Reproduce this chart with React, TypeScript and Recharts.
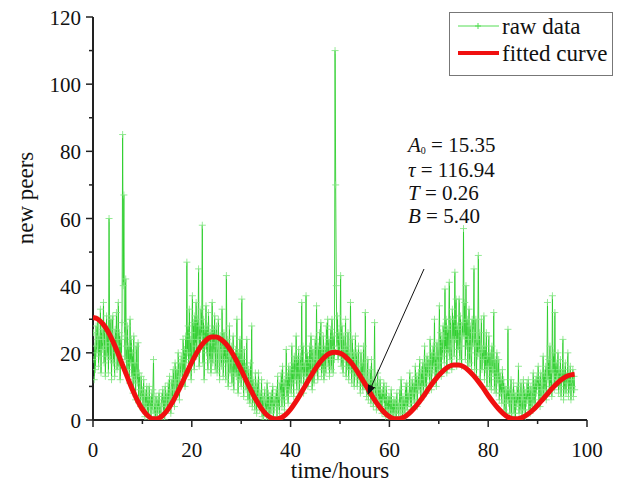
import { Label, Legend, Line, LineChart, XAxis, YAxis } from "recharts";

const SERIF = "'Liberation Serif', 'Times New Roman', 'DejaVu Serif', serif";
const serif = { fontFamily: SERIF };

// raw counts, one sample every 7.5 minutes starting at t = 0 h (8 per hour)
const RAW_STEP = 0.125;
const rawValues = [
  18, 26, 12, 22, 15, 28, 20, 24, 30, 16, 25, 19, 33, 14, 27, 21,
  24, 35, 17, 28, 13, 22, 31, 19, 26, 14, 60, 23, 18, 30, 12, 25,
  31, 17, 24, 13, 27, 20, 32, 15, 22, 35, 16, 26, 12, 24, 19, 29,
  85, 40, 67, 25, 18, 42, 22, 14, 28, 15, 22, 11, 30, 17, 24, 13,
  20, 8, 25, 12, 17, 6, 22, 14, 11, 23, 6, 14, 9, 4, 13, 7,
  9, 3, 12, 5, 1, 8, 4, 10, 2, 7, 0, 10, 4, 6, 1, 8,
  3, 9, 18, 2, 5, 0, 7, 4, 1, 6, 3, 8, 0, 4, 2, 7,
  5, 9, 2, 7, 0, 10, 4, 6, 8, 3, 11, 5, 13, 7, 2, 9,
  12, 6, 15, 9, 4, 17, 11, 8, 15, 9, 20, 12, 6, 17, 13, 19,
  18, 11, 24, 14, 21, 10, 25, 17, 47, 20, 28, 14, 33, 18, 24, 12,
  26, 37, 18, 29, 15, 31, 22, 35, 19, 30, 24, 45, 16, 28, 21, 33,
  25, 58, 17, 30, 12, 27, 22, 34, 20, 28, 15, 32, 24, 18, 26, 14,
  23, 35, 17, 27, 20, 31, 15, 25, 28, 14, 22, 30, 18, 12, 25, 20,
  16, 33, 21, 13, 26, 18, 23, 12, 43, 17, 24, 10, 20, 28, 14, 19,
  22, 11, 17, 25, 9, 19, 14, 21, 13, 30, 17, 8, 20, 12, 24, 15,
  10, 36, 14, 18, 7, 21, 12, 16, 9, 24, 13, 6, 15, 11, 5, 17,
  8, 28, 4, 12, 6, 10, 3, 14, 9, 2, 11, 5, 14, 7, 3, 8,
  4, 12, 1, 7, 0, 6, 9, 3, 6, 1, 11, 3, 8, 0, 5, 7,
  2, 8, 4, 10, 0, 6, 3, 7, 5, 9, 1, 13, 4, 7, 2, 11,
  8, 14, 4, 16, 6, 11, 3, 12, 10, 21, 7, 13, 5, 16, 9, 14,
  15, 8, 22, 11, 17, 7, 19, 12, 14, 25, 9, 18, 12, 21, 8, 16,
  19, 11, 35, 14, 22, 8, 17, 13, 16, 37, 12, 20, 10, 18, 14, 22,
  13, 25, 17, 9, 21, 15, 11, 19, 24, 14, 34, 18, 12, 22, 16, 26,
  17, 29, 13, 21, 15, 25, 12, 20, 22, 14, 28, 18, 30, 16, 24, 13,
  19, 27, 15, 30, 21, 14, 25, 18, 110, 70, 40, 22, 31, 18, 26, 20,
  24, 43, 16, 28, 19, 14, 25, 21, 18, 30, 13, 22, 16, 26, 12, 20,
  15, 35, 19, 11, 24, 14, 20, 10, 18, 25, 13, 20, 10, 16, 22, 12,
  14, 8, 20, 11, 17, 9, 22, 13, 10, 32, 14, 7, 12, 18, 6, 11,
  8, 15, 5, 18, 9, 12, 4, 10, 29, 7, 11, 3, 9, 14, 6, 10,
  5, 12, 3, 8, 2, 9, 6, 11, 4, 8, 1, 10, 3, 6, 2, 7,
  3, 7, 0, 9, 2, 5, 1, 6, 2, 6, 4, 0, 8, 3, 5, 1,
  4, 9, 2, 12, 5, 0, 7, 3, 6, 2, 10, 4, 11, 3, 8, 5,
  7, 14, 4, 10, 3, 12, 8, 6, 11, 5, 16, 8, 13, 4, 10, 14,
  9, 18, 12, 6, 15, 10, 17, 8, 14, 22, 10, 17, 8, 19, 13, 16,
  18, 11, 24, 15, 9, 20, 14, 22, 16, 30, 12, 19, 10, 23, 17, 14,
  22, 34, 15, 26, 13, 24, 19, 28, 25, 17, 39, 21, 30, 14, 27, 20,
  28, 41, 18, 30, 22, 15, 33, 24, 30, 19, 44, 24, 36, 16, 28, 21,
  27, 36, 18, 31, 22, 16, 29, 25, 57, 25, 35, 18, 40, 22, 30, 16,
  24, 33, 17, 28, 20, 15, 30, 22, 26, 45, 15, 22, 30, 13, 24, 19,
  49, 20, 26, 12, 22, 30, 15, 21, 18, 31, 12, 22, 15, 26, 10, 19,
  16, 25, 10, 20, 13, 9, 22, 15, 14, 32, 9, 18, 12, 8, 20, 13,
  11, 18, 6, 14, 8, 12, 5, 15, 8, 12, 3, 10, 5, 2, 9, 6,
  27, 5, 9, 2, 7, 12, 1, 8, 6, 11, 2, 8, 0, 7, 4, 10,
  5, 16, 2, 8, 3, 11, 6, 1, 7, 12, 3, 9, 1, 8, 5, 11,
  6, 12, 3, 9, 2, 10, 7, 4, 9, 14, 5, 11, 4, 12, 8, 13,
  10, 16, 6, 12, 4, 14, 9, 7, 11, 19, 7, 14, 9, 16, 6, 13,
  35, 12, 18, 8, 22, 10, 15, 7, 37, 14, 20, 9, 32, 11, 17, 12,
  13, 20, 8, 15, 10, 18, 7, 14, 12, 24, 6, 15, 9, 17, 8, 13,
  11, 20, 7, 14, 9, 16, 6, 12, 10, 15, 7, 13, 9,
];

const fitTimes = [
  0, 1, 2, 3, 4, 5, 6, 7, 8, 9, 10, 11, 12, 13, 14, 15, 16, 17, 18, 19,
  20, 21, 22, 23, 24, 25, 26, 27, 28, 29, 30, 31, 32, 33, 34, 35, 36, 37, 38, 39,
  40, 41, 42, 43, 44, 45, 46, 47, 48, 49, 50, 51, 52, 53, 54, 55, 56, 57, 58, 59,
  60, 61, 62, 63, 64, 65, 66, 67, 68, 69, 70, 71, 72, 73, 74, 75, 76, 77, 78, 79,
  80, 81, 82, 83, 84, 85, 86, 87, 88, 89, 90, 91, 92, 93, 94, 95, 96, 97, 97.5,
];
const fitValues = [
  30.5, 30.0, 28.6, 26.4, 23.5, 20.1, 16.3, 12.6, 9.0, 5.8,
  3.2, 1.4, 0.4, 0.4, 1.2, 2.8, 5.1, 7.9, 10.9, 14.1,
  17.2, 20.0, 22.3, 23.9, 24.7, 24.7, 23.9, 22.5, 20.4, 17.8,
  14.9, 11.8, 8.8, 6.0, 3.6, 1.8, 0.7, 0.3, 0.6, 1.6,
  3.2, 5.3, 7.7, 10.3, 12.8, 15.2, 17.3, 18.9, 19.9, 20.2,
  19.9, 19.0, 17.5, 15.6, 13.3, 10.9, 8.4, 6.0, 3.9, 2.2,
  1.0, 0.4, 0.4, 0.9, 2.0, 3.5, 5.3, 7.3, 9.5, 11.5,
  13.3, 14.8, 15.9, 16.4, 16.4, 15.9, 14.8, 13.3, 11.5, 9.5,
  7.3, 5.3, 3.5, 2.0, 0.9, 0.4, 0.4, 0.8, 1.7, 2.9,
  4.4, 6.1, 7.8, 9.5, 11.0, 12.2, 13.1, 13.5, 13.6,
];

const xTicks = [0, 10, 20, 30, 40, 50, 60, 70, 80, 90, 100];
const yTicks = [0, 10, 20, 30, 40, 50, 60, 70, 80, 90, 100, 110, 120];

const rawData = rawValues.map((v, i) => ({ t: i * RAW_STEP, v }));
const fitData = fitValues.map((v, i) => ({ t: fitTimes[i], v }));

const XTick = (props: any) => {
  const { x, y, payload } = props;
  const major = payload.value % 20 === 0;
  return (
    <g>
      <line x1={x} x2={x} y1={y} y2={y + (major ? 7 : 4)} stroke="#222" strokeWidth={1.5} />
      {major && (
        <text x={x} y={y + 37} textAnchor="middle" fontSize={21} style={serif} fill="#111">
          {payload.value}
        </text>
      )}
    </g>
  );
};

const YTick = (props: any) => {
  const { x, y, payload } = props;
  const major = payload.value % 20 === 0;
  return (
    <g>
      <line x1={x - (major ? 7 : 4)} x2={x} y1={y} y2={y} stroke="#222" strokeWidth={1.5} />
      {major && (
        <text x={x - 12} y={y + 8} textAnchor="end" fontSize={21} style={serif} fill="#111">
          {payload.value}
        </text>
      )}
    </g>
  );
};

const Plus = (props: any) => {
  const { cx, cy, index } = props;
  if (cx == null || cy == null) return <g key={index} />;
  return (
    <path
      key={index}
      d={`M${cx - 3.5},${cy}h7M${cx},${cy - 3.5}v7`}
      stroke="#84e684"
      strokeOpacity={0.85}
      strokeWidth={1}
      fill="none"
    />
  );
};

const LegendBox = () => (
  <svg width={164} height={64} style={{ display: "block" }}>
    <rect x={0.5} y={0.5} width={163} height={63} fill="#fff" stroke="#777" />
    <line x1={9} x2={50} y1={14} y2={14} stroke="#55dd55" strokeWidth={1} />
    <path d="M29,11v6M26,14h6" stroke="#55dd55" />
    <text x={53} y={21.5} fontSize={23} style={serif} fill="#111">raw data</text>
    <line x1={9} x2={50} y1={41} y2={41} stroke="#f01010" strokeWidth={4} />
    <text x={53} y={48.5} fontSize={23} style={serif} fill="#111">fitted curve</text>
  </svg>
);

export default function App() {
  return (
    <div style={{ position: "absolute", left: 0, top: 0, width: 621, height: 490, background: "#fff", fontFamily: SERIF }}>
      <LineChart width={621} height={490} margin={{ top: 17, right: 34, bottom: 0, left: 0 }}>
        <XAxis
          type="number"
          dataKey="t"
          domain={[0, 100]}
          ticks={xTicks}
          tick={<XTick />}
          tickLine={false}
          tickSize={0}
          tickMargin={0}
          height={70}
          stroke="#222"
          strokeWidth={2}
          allowDataOverflow
        >
          <Label
            content={() => (
              <text x={340} y={478} textAnchor="middle" fontSize={23} style={serif} fill="#111">
                time/hours
              </text>
            )}
          />
        </XAxis>
        <YAxis
          type="number"
          domain={[0, 120]}
          ticks={yTicks}
          tick={<YTick />}
          tickLine={false}
          tickSize={0}
          tickMargin={0}
          width={93}
          stroke="#222"
          strokeWidth={2}
          allowDataOverflow
        >
          <Label
            content={() => (
              <text
                x={33}
                y={198}
                textAnchor="middle"
                fontSize={23}
                style={serif}
                fill="#111"
                transform="rotate(-90 33 198)"
              >
                new peers
              </text>
            )}
          />
        </YAxis>
        <Legend
          layout="vertical"
          align="center"
          verticalAlign="middle"
          content={() => <LegendBox />}
          wrapperStyle={{ position: "absolute", left: 449, top: 12, width: 164, height: 64 }}
        />
        <Line
          data={rawData}
          dataKey="v"
          type="linear"
          stroke="#26cc26"
          strokeOpacity={0.85}
          strokeWidth={1}
          dot={<Plus />}
          isAnimationActive={false}
        />
        <Line
          data={fitData}
          dataKey="v"
          type="monotone"
          stroke="#f01010"
          strokeWidth={5}
          dot={false}
          isAnimationActive={false}
          {...({ zIndex: 1500 } as any)}
        />
      </LineChart>
      <svg
        width={621}
        height={490}
        style={{ position: "absolute", left: 0, top: 0, pointerEvents: "none" }}
      >
        <defs>
          <marker id="arrowHead" markerWidth={10} markerHeight={8} refX={9} refY={4} orient="auto">
            <path d="M0,0L10,4L0,8Z" fill="#111" />
          </marker>
        </defs>
        <line x1={424} y1={269} x2={368} y2={394} stroke="#111" strokeWidth={1} markerEnd="url(#arrowHead)" />
        <g fontSize={21} fill="#111" style={serif}>
          <text x={408} y={152}>
            <tspan fontStyle="italic">A</tspan>
            <tspan fontSize={10} dy={2}>0</tspan>
            <tspan dy={-2}> = 15.35</tspan>
          </text>
          <text x={408} y={177}>
            <tspan fontStyle="italic">τ</tspan> = 116.94
          </text>
          <text x={408} y={200}>
            <tspan fontStyle="italic">T</tspan> = 0.26
          </text>
          <text x={408} y={223}>
            <tspan fontStyle="italic">B</tspan> = 5.40
          </text>
        </g>
      </svg>
    </div>
  );
}
